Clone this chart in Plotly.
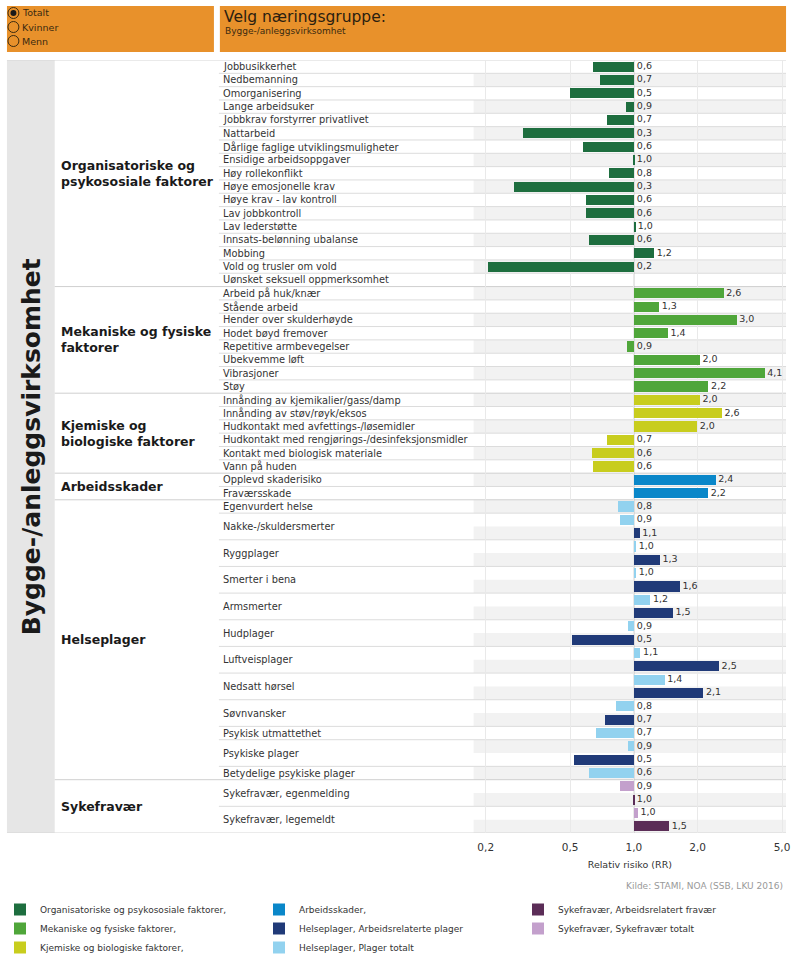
import plotly.graph_objects as go

W, H = 799, 963

# ---------------- data ----------------
org_labels = ["Jobbusikkerhet", "Nedbemanning", "Omorganisering", "Lange arbeidsuker",
              "Jobbkrav forstyrrer privatlivet", "Nattarbeid", "Dårlige faglige utviklingsmuligheter",
              "Ensidige arbeidsoppgaver", "Høy rollekonflikt", "Høye emosjonelle krav",
              "Høye krav - lav kontroll", "Lav jobbkontroll", "Lav lederstøtte",
              "Innsats-belønning ubalanse", "Mobbing", "Vold og trusler om vold",
              "Uønsket seksuell oppmerksomhet"]
org_values = [0.64, 0.69, 0.50, 0.91, 0.74, 0.30, 0.57, 0.99, 0.76, 0.27, 0.59, 0.59, 1.01,
              0.61, 1.24, 0.204, None]

mek_labels = ["Arbeid på huk/knær", "Stående arbeid", "Hender over skulderhøyde", "Hodet bøyd fremover",
              "Repetitive armbevegelser", "Ubekvemme løft", "Vibrasjoner", "Støy"]
mek_values = [2.64, 1.31, 3.04, 1.44, 0.92, 2.04, 4.12, 2.24]

kjem_labels = ["Innånding av kjemikalier/gass/damp", "Innånding av støv/røyk/eksos",
               "Hudkontakt med avfettings-/løsemidler", "Hudkontakt med rengjørings-/desinfeksjonsmidler",
               "Kontakt med biologisk materiale", "Vann på huden"]
kjem_values = [2.04, 2.59, 1.98, 0.74, 0.63, 0.64]

skade_labels = ["Opplevd skaderisiko", "Fraværsskade"]
skade_values = [2.42, 2.23]

helse_labels = ["Egenvurdert helse", "Nakke-/skuldersmerter", "Ryggplager", "Smerter i bena",
                "Armsmerter", "Hudplager", "Luftveisplager", "Nedsatt hørsel", "Søvnvansker",
                "Psykisk utmattethet", "Psykiske plager", "Betydelige psykiske plager"]
helse_totalt = [0.84, 0.86, 1.02, 1.02, 1.19, 0.93, 1.07, 1.39, 0.82, 0.66, 0.93, 0.61]
helse_arbeid = [None, 1.06, 1.32, 1.64, 1.52, 0.51, 2.51, 2.12, 0.73, None, 0.52, None]

syke_labels = ["Sykefravær, egenmelding", "Sykefravær, legemeldt"]
syke_totalt = [0.86, 1.04]
syke_arbeid = [0.99, 1.46]

group_names = ["Organisatoriske og<br>psykososiale faktorer", "Mekaniske og fysiske<br>faktorer",
               "Kjemiske og<br>biologiske faktorer", "Arbeidsskader", "Helseplager", "Sykefravær"]

tick_vals = [0.2, 0.5, 1.0, 2.0, 5.0]
tick_text = ["0,2", "0,5", "1,0", "2,0", "5,0"]

series_names = {
    "org": "Organisatoriske og psykososiale faktorer,",
    "mek": "Mekaniske og fysiske faktorer,",
    "kjem": "Kjemiske og biologiske faktorer,",
    "skade": "Arbeidsskader,",
    "harb": "Helseplager, Arbeidsrelaterte plager",
    "htot": "Helseplager, Plager totalt",
    "sarb": "Sykefravær, Arbeidsrelatert fravær",
    "stot": "Sykefravær, Sykefravær totalt",
}
colors = {
    "org": "#1e6e3f", "mek": "#4fa63a", "kjem": "#c8cd1e", "skade": "#0a87c9",
    "harb": "#203a78", "htot": "#92d2ef", "sarb": "#5b2d57", "stot": "#c3a0cc",
}

# ---------------- build rows ----------------
series = {k: {"y": [], "v": []} for k in series_names}
items = []   # (label, center_row, first_row, last_row)
row = 0


def add_simple(key, labels, values):
    global row
    start = row
    for lab, v in zip(labels, values):
        if v is not None:
            series[key]["y"].append(row)
            series[key]["v"].append(v)
        items.append((lab, row, row, row))
        row += 1
    return start, row - 1


g = [add_simple("org", org_labels, org_values),
     add_simple("mek", mek_labels, mek_values),
     add_simple("kjem", kjem_labels, kjem_values),
     add_simple("skade", skade_labels, skade_values)]


def add_pairs(k1, k2, labels, v1, v2):
    global row
    start = row
    for lab, a, b in zip(labels, v1, v2):
        first = row
        series[k1]["y"].append(row)
        series[k1]["v"].append(a)
        row += 1
        if b is not None:
            series[k2]["y"].append(row)
            series[k2]["v"].append(b)
            row += 1
        items.append((lab, (first + row - 1) / 2, first, row - 1))
    return start, row - 1


g.append(add_pairs("htot", "harb", helse_labels, helse_totalt, helse_arbeid))
g.append(add_pairs("stot", "sarb", syke_labels, syke_totalt, syke_arbeid))
NROWS = row

# ---------------- geometry ----------------
PX_L, PX_R = 476, 790
PY_T, PY_B = 60, 833


def px(x):
    return x / W


def py(y):
    return 1 - y / H


fig = go.Figure()

legend_rank = {"org": 1, "skade": 2, "sarb": 3, "mek": 4, "harb": 5, "stot": 6, "kjem": 7, "htot": 8}
for key in ["org", "mek", "kjem", "skade", "htot", "harb", "stot", "sarb"]:
    ys = series[key]["y"]
    vs = series[key]["v"]
    fig.add_trace(go.Bar(
        orientation="h", y=ys, x=[v - 1 for v in vs], base=[1] * len(vs),
        marker=dict(color=colors[key], line=dict(width=0)), width=0.76,
        name=series_names[key], legendrank=legend_rank[key],
        hovertext=[f"{v:.1f}".replace(".", ",") for v in vs], hoverinfo="text+name",
    ))

# value labels
lab_x, lab_y, lab_t = [], [], []
for key in series:
    for y, v in zip(series[key]["y"], series[key]["v"]):
        lab_x.append(max(v, 1.0))
        lab_y.append(y)
        lab_t.append("\u00a0" + f"{v:.1f}".replace(".", ","))
fig.add_trace(go.Scatter(
    x=lab_x, y=lab_y, text=lab_t, mode="text", textposition="middle right",
    textfont=dict(family="DejaVu Sans", size=9.5, color="#333333"),
    showlegend=False, hoverinfo="skip", cliponaxis=False,
))

shapes = []
# header panels
ORANGE = "#e8912b"
shapes.append(dict(type="rect", xref="paper", yref="paper", x0=px(7), x1=px(215), y0=py(52), y1=py(6),
                   fillcolor=ORANGE, line=dict(width=0), layer="below"))
shapes.append(dict(type="rect", xref="paper", yref="paper", x0=px(221), x1=px(790), y0=py(52), y1=py(6),
                   fillcolor=ORANGE, line=dict(width=0), layer="below"))
# radio buttons
for i, yy in enumerate([13, 27, 41]):
    shapes.append(dict(type="circle", xref="paper", yref="paper", x0=px(8), x1=px(19), y0=py(yy + 5.5), y1=py(yy - 5.5),
                       line=dict(color="#3a2a10", width=1), fillcolor="rgba(0,0,0,0)"))
    if i == 0:
        shapes.append(dict(type="circle", xref="paper", yref="paper", x0=px(10.5), x1=px(16.5), y0=py(yy + 3), y1=py(yy - 3),
                           line=dict(width=0), fillcolor="#1a1a1a"))
# grey side panel
shapes.append(dict(type="rect", xref="paper", yref="paper", x0=px(7), x1=px(55), y0=py(PY_B), y1=py(PY_T),
                   fillcolor="#e6e6e6", line=dict(width=0), layer="below"))
# alternating bands in plot area
for r in range(1, NROWS, 2):
    shapes.append(dict(type="rect", xref="x domain", yref="y", x0=0, x1=1, y0=r - 0.5, y1=r + 0.5,
                       fillcolor="#f2f2f2", line=dict(width=0), layer="below"))
# item separators
group_starts = {s for s, e in g}
for lab, c, first, last in items:
    if first == 0:
        continue
    x0 = px(55) if first in group_starts else px(220)
    col = "#cfcfcf" if first in group_starts else "#dcdcdc"
    shapes.append(dict(type="line", xref="paper", yref="y", x0=x0, x1=px(PX_R), y0=first - 0.5, y1=first - 0.5,
                       line=dict(color=col, width=1), layer="below"))
# top / bottom borders
for yy in [-0.5, NROWS - 0.5]:
    shapes.append(dict(type="line", xref="paper", yref="y", x0=px(7), x1=px(PX_R), y0=yy, y1=yy,
                       line=dict(color="#d6d6d6", width=1), layer="below"))
# reference line at 1
shapes.append(dict(type="line", xref="x", yref="y domain", x0=1, x1=1, y0=0, y1=1,
                   line=dict(color="#b5b5b5", width=1), layer="below"))

annotations = []
FONT = "DejaVu Sans"
for t, yy in zip(["Totalt", "Kvinner", "Menn"], [13, 27, 41]):
    annotations.append(dict(xref="paper", yref="paper", x=px(20), y=py(yy), text=t, showarrow=False,
                            xanchor="left", yanchor="middle", font=dict(family=FONT, size=9.5, color="#3a2a10")))
annotations.append(dict(xref="paper", yref="paper", x=px(223), y=py(17), text="Velg næringsgruppe:", showarrow=False,
                        xanchor="left", yanchor="middle", font=dict(family=FONT, size=15.5, color="#2a2010")))
annotations.append(dict(xref="paper", yref="paper", x=px(224), y=py(31), text="Bygge-/anleggsvirksomhet", showarrow=False,
                        xanchor="left", yanchor="middle", font=dict(family=FONT, size=9, color="#3a2a10")))
annotations.append(dict(xref="paper", yref="paper", x=px(32), y=py((PY_T + PY_B) / 2), text="<b>Bygge-/anleggsvirksomhet</b>",
                        textangle=-90, showarrow=False, xanchor="center", yanchor="middle",
                        font=dict(family=FONT, size=25, color="#1a1a1a")))
for name, (s, e) in zip(group_names, g):
    annotations.append(dict(xref="paper", yref="y", x=px(59), y=(s + e) / 2, text=f"<b>{name}</b>", showarrow=False,
                            xanchor="left", yanchor="middle", align="left",
                            font=dict(family=FONT, size=12.5, color="#1a1a1a")))
for lab, c, first, last in items:
    annotations.append(dict(xref="paper", yref="y", x=px(222), y=c, text=lab, showarrow=False,
                            xanchor="left", yanchor="middle", font=dict(family=FONT, size=9.8, color="#333333")))
annotations.append(dict(xref="paper", yref="paper", x=px(789), y=py(886), text="Kilde: STAMI, NOA (SSB, LKU 2016)",
                        showarrow=False, xanchor="right", yanchor="middle", font=dict(family=FONT, size=9, color="#999999")))

fig.update_layout(
    width=W, height=H, margin=dict(l=0, r=0, t=0, b=0),
    paper_bgcolor="white", plot_bgcolor="white",
    barmode="overlay", bargap=0,
    shapes=shapes, annotations=annotations,
    font=dict(family=FONT, size=10, color="#333333"),
    xaxis=dict(type="log", range=[-0.756, 0.718], domain=[px(PX_L), px(PX_R)],
               tickvals=tick_vals, ticktext=tick_text, showgrid=True, gridcolor="#e9e9e9",
               zeroline=False, showline=False, ticks="", tickfont=dict(size=10.5, color="#333333"),
               ticklabelstandoff=6,
               title=dict(text="Relativ risiko (RR)", font=dict(size=9.5, color="#333333"), standoff=9),
               fixedrange=True),
    yaxis=dict(range=[NROWS - 0.5, -0.5], domain=[py(PY_B), py(PY_T)], showticklabels=False,
               showgrid=False, zeroline=False, ticks="", fixedrange=True),
    legend=dict(orientation="h", x=0, y=py(895), xanchor="left", yanchor="top",
                entrywidth=214, entrywidthmode="pixels", font=dict(family=FONT, size=9, color="#333333"),
                itemclick=False, itemdoubleclick=False, tracegroupgap=0, traceorder="normal"),
    showlegend=True,
)

fig.write_html("out.html", config={"displayModeBar": False},
               post_script="document.body.style.margin='0';document.body.style.overflow='hidden';")
